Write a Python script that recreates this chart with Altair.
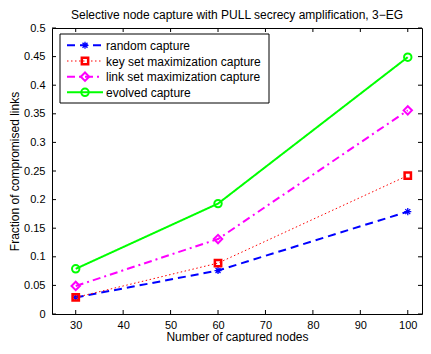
import altair as alt
import pandas as pd

# ---- data ----
x_nodes = [30, 60, 100]
random_capture = [0.029, 0.076, 0.179]
key_set_capture = [0.029, 0.089, 0.242]
link_set_capture = [0.049, 0.131, 0.356]
evolved_capture = [0.079, 0.193, 0.449]
series_names = [
    "random capture",
    "key set maximization capture",
    "link set maximization capture",
    "evolved capture",
]
series_values = [random_capture, key_set_capture, link_set_capture, evolved_capture]
x_ticks = [30, 40, 50, 60, 70, 80, 90, 100]
y_ticks = [0, 0.05, 0.1, 0.15, 0.2, 0.25, 0.3, 0.35, 0.4, 0.45, 0.5]

# ---- styles ----
ASTERISK = "M-1,0L1,0M0,-1L0,1M-0.7,-0.7L0.7,0.7M-0.7,0.7L0.7,-0.7"
styles = [
    dict(color="#0000ff", dash=[8, 5], lw=2, shape=ASTERISK, size=50, mw=1.3),
    dict(color="#ff0000", dash=[1.5, 2.5], lw=1, shape="square", size=40, mw=2.5),
    dict(color="#ff00ff", dash=[8, 4, 2, 4], lw=2, shape="diamond", size=70, mw=2),
    dict(color="#00ff00", dash=[1, 0], lw=2, shape="circle", size=55, mw=2),
]

W, H = 370, 286
FONT = "Liberation Sans"
xscale = alt.Scale(domain=[25, 103], nice=False, zero=False)
yscale = alt.Scale(domain=[0, 0.5], nice=False)
XT = "Number of captured nodes"
YT = "Fraction of compromised links"
xaxis = alt.Axis(values=x_ticks, ticks=False, domain=False, grid=False,
                 labelPadding=5, titlePadding=1)
yaxis = alt.Axis(values=y_ticks, format=".2~f", ticks=False, domain=False,
                 grid=False, labelPadding=7, titlePadding=2)


def X(field):
    return alt.X(field, scale=xscale, axis=xaxis, title=XT)


def Y(field):
    return alt.Y(field, scale=yscale, axis=yaxis, title=YT)


layers = []
for i, (name, vals) in enumerate(zip(series_names, series_values)):
    st = styles[i]
    df = pd.DataFrame({"x": x_nodes, "y": vals, "series": name})
    base = alt.Chart(df)
    line = base.mark_line(color=st["color"], strokeDash=st["dash"], strokeWidth=st["lw"],
                          clip=False).encode(x=X("x:Q"), y=Y("y:Q"))
    pts = base.mark_point(color=st["color"], shape=st["shape"], size=st["size"],
                          strokeWidth=st["mw"], filled=False, opacity=1).encode(
        x=X("x:Q"), y=Y("y:Q"))
    layers += [line, pts]

# ---- inward ticks on all four sides (MATLAB box style) ----
xt = pd.DataFrame({"x": x_ticks})
yt = pd.DataFrame({"y": y_ticks})
tick_len = 4
layers.append(alt.Chart(xt).mark_rule(color="black", strokeWidth=1).encode(
    x=X("x:Q"), y=alt.value(H), y2=alt.value(H - tick_len)))
layers.append(alt.Chart(xt).mark_rule(color="black", strokeWidth=1).encode(
    x=X("x:Q"), y=alt.value(0), y2=alt.value(tick_len)))
layers.append(alt.Chart(yt).mark_rule(color="black", strokeWidth=1).encode(
    y=Y("y:Q"), x=alt.value(0), x2=alt.value(tick_len)))
layers.append(alt.Chart(yt).mark_rule(color="black", strokeWidth=1).encode(
    y=Y("y:Q"), x=alt.value(W), x2=alt.value(W - tick_len)))

# ---- legend box (manual, MATLAB style) ----
one = pd.DataFrame({"k": [0]})
layers.append(alt.Chart(one).mark_rect(fill="white", stroke="black", strokeWidth=1).encode(
    x=alt.value(8), x2=alt.value(217), y=alt.value(6), y2=alt.value(75)))
leg_y = [17.3, 33.0, 48.7, 64.3]
for i, name in enumerate(series_names):
    st = styles[i]
    ly = leg_y[i]
    layers.append(alt.Chart(one).mark_rule(color=st["color"], strokeDash=st["dash"],
                                           strokeWidth=st["lw"]).encode(
        x=alt.value(15), x2=alt.value(51), y=alt.value(ly)))
    layers.append(alt.Chart(one).mark_point(color=st["color"], shape=st["shape"], size=st["size"],
                                            strokeWidth=st["mw"], filled=False, opacity=1).encode(
        x=alt.value(33), y=alt.value(ly)))
    layers.append(alt.Chart(pd.DataFrame({"label": [name]})).mark_text(
        align="left", baseline="middle", font=FONT, fontSize=12, color="black").encode(
        x=alt.value(54), y=alt.value(ly + 0.5), text="label:N"))

chart = alt.layer(*layers).properties(
    width=W, height=H,
    title=alt.TitleParams("Selective node capture with PULL secrecy amplification, 3\u2212EG",
                          font=FONT, fontSize=12, fontWeight="normal", color="black", offset=0),
    autosize=alt.AutoSizeParams(type="none"),
    padding={"left": 44, "top": 20, "right": 1, "bottom": 28},
).configure_view(stroke="black", strokeWidth=1).configure_axis(
    labelFont=FONT, labelFontSize=11, labelColor="black",
    titleFont=FONT, titleFontSize=12, titleFontWeight="normal", titleColor="black",
)

chart.save("out.html", embed_options={"renderer": "svg", "actions": False})
